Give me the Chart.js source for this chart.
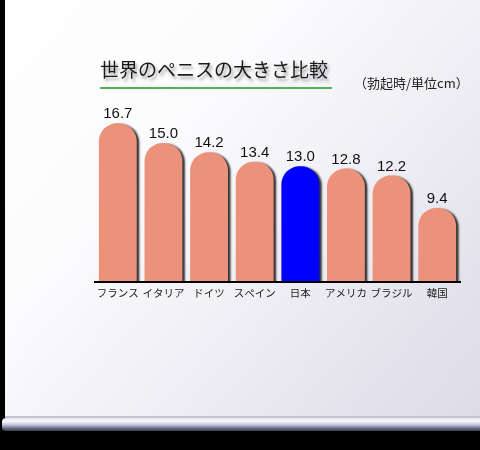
<!DOCTYPE html>
<html>
<head>
<meta charset="utf-8">
<script src="https://cdn.jsdelivr.net/npm/chart.js@4.4.0/dist/chart.umd.min.js"></script>
<style>
  html, body { margin: 0; padding: 0; background: #000; }
  canvas { display: block; }
</style>
</head>
<body>
<canvas id="penisChart" width="480" height="450"></canvas>
<script>
/* ── Data ─────────────────────────────────────────── */
const countries = ['フランス', 'イタリア', 'ドイツ', 'スペイン', '日本', 'アメリカ', 'ブラジル', '韓国'];
const lengths   = [16.7, 15.0, 14.2, 13.4, 13.0, 12.8, 12.2, 9.4];
const highlight = '日本';
const titleText = '世界のペニスの大きさ比較';
const unitText  = '（勃起時/単位cm）';
const axisMin   = 3;
const axisMax   = 20;

const JP_FONT  = '"Noto Sans CJK JP", "Noto Sans", sans-serif';
const NUM_FONT = '"Liberation Sans", Arial, sans-serif';

const barColors = countries.map(c => c === highlight ? '#0000ff' : '#ed927a');

/* ── Whiteboard background + title ───────────────── */
const whiteboard = {
  id: 'whiteboard',
  beforeDraw(chart) {
    const ctx = chart.ctx;
    ctx.save();
    ctx.fillStyle = '#000';
    ctx.fillRect(0, 0, 480, 450);

    // board surface
    const g = ctx.createLinearGradient(5, 0, 480, 417);
    g.addColorStop(0, '#ffffff');
    g.addColorStop(0.35, '#fbfbfd');
    g.addColorStop(1, '#dcdbe7');
    ctx.fillStyle = g;
    ctx.fillRect(5, 0, 475, 418);

    // tray edge
    ctx.fillStyle = '#c4c3cf';
    ctx.fillRect(5, 416, 475, 2);

    // tray
    const t = ctx.createLinearGradient(0, 418, 0, 431);
    t.addColorStop(0, '#e4e4ee');
    t.addColorStop(0.25, '#fafaff');
    t.addColorStop(0.5, '#c9c8dc');
    t.addColorStop(0.8, '#6c6b8a');
    t.addColorStop(1, '#3c3b52');
    ctx.fillStyle = t;
    ctx.beginPath();
    ctx.moveTo(480, 418);
    ctx.lineTo(6, 418);
    ctx.quadraticCurveTo(2, 418, 2, 422);
    ctx.lineTo(2, 427);
    ctx.quadraticCurveTo(2, 431, 6, 431);
    ctx.lineTo(480, 431);
    ctx.closePath();
    ctx.fill();

    // title with soft shadow
    ctx.font = '19px ' + JP_FONT;
    ctx.textBaseline = 'alphabetic';
    ctx.textAlign = 'left';
    ctx.shadowColor = 'rgba(0,0,0,0.35)';
    ctx.shadowBlur = 3;
    ctx.shadowOffsetX = 2;
    ctx.shadowOffsetY = 3;
    ctx.fillStyle = '#1a1a1a';
    ctx.fillText(titleText, 100, 77);
    ctx.shadowColor = 'transparent';

    // green underline
    ctx.fillStyle = '#55b060';
    ctx.fillRect(100, 87, 232, 2);

    // unit note
    ctx.font = '13px ' + JP_FONT;
    ctx.fillStyle = '#222';
    ctx.fillText(unitText, 354, 88);
    ctx.restore();
  }
};

/* ── Bar shadow + value labels ───────────────────── */
const barDecor = {
  id: 'barDecor',
  beforeDatasetsDraw(chart) {
    const ctx = chart.ctx;
    ctx.save();
    ctx.shadowColor = 'rgba(0,0,0,0.8)';
    ctx.shadowBlur = 2;
    ctx.shadowOffsetX = 2.5;
    ctx.shadowOffsetY = 1;
  },
  afterDatasetsDraw(chart) {
    const ctx = chart.ctx;
    ctx.restore();
    ctx.save();
    ctx.font = '15px ' + NUM_FONT;
    ctx.fillStyle = '#111';
    ctx.textAlign = 'center';
    ctx.textBaseline = 'alphabetic';
    chart.getDatasetMeta(0).data.forEach((bar, i) => {
      ctx.fillText(lengths[i].toFixed(1), bar.x, bar.y - 5);
    });
    ctx.restore();
  }
};

new Chart(document.getElementById('penisChart'), {
  type: 'bar',
  data: {
    labels: countries,
    datasets: [{
      data: lengths,
      base: axisMin,
      backgroundColor: barColors,
      borderWidth: 0,
      borderRadius: { topLeft: 18, topRight: 18, bottomLeft: 0, bottomRight: 0 },
      borderSkipped: 'start',
      categoryPercentage: 1,
      barPercentage: 0.83,
      clip: { left: 0, top: false, right: 6, bottom: 0 },
    }]
  },
  options: {
    responsive: false,
    animation: false,
    layout: { padding: { left: 95, right: 20, top: 85, bottom: 147 } },
    plugins: {
      legend: { display: false },
      tooltip: { enabled: false },
    },
    scales: {
      x: {
        grid: { display: false, drawTicks: false },
        border: { display: true, color: '#000', width: 2, z: 1 },
        ticks: {
          color: '#222',
          font: { family: JP_FONT, size: 10.5 },
          padding: 4,
          maxRotation: 0,
          autoSkip: false,
        }
      },
      y: { display: false, min: axisMin, max: axisMax }
    }
  },
  plugins: [whiteboard, barDecor]
});
</script>
</body>
</html>
